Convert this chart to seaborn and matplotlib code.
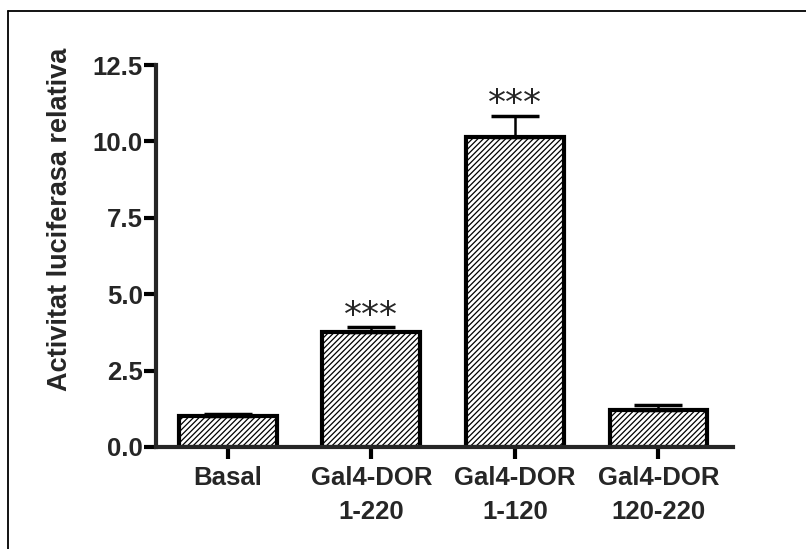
import matplotlib.pyplot as plt
import pandas as pd
import seaborn as sns
from matplotlib.lines import Line2D
from matplotlib.ticker import FormatStrFormatter, MultipleLocator

groups = ["Basal", "Gal4-DOR\n1-220", "Gal4-DOR\n1-120", "Gal4-DOR\n120-220"]
activity = [1.0, 3.76, 10.15, 1.2]
sem = [0.07, 0.17, 0.69, 0.16]
stars = ["", "***", "***", ""]


def main() -> None:
    sns.set_style("ticks")
    plt.rcParams["font.family"] = ["Liberation Sans", "DejaVu Sans"]
    plt.rcParams["font.weight"] = "bold"
    plt.rcParams["hatch.linewidth"] = 0.9
    plt.rcParams["hatch.color"] = "black"

    df = pd.DataFrame({"group": groups, "activity": activity, "sem": sem})

    fig = plt.figure(figsize=(8.06, 5.49), dpi=100)
    ax = fig.add_axes([0.1935, 0.1858, 0.7159, 0.6958])
    sns.barplot(data=df, x="group", y="activity", color="white", edgecolor="black",
                linewidth=3, width=0.68, errorbar=None, saturation=1, ax=ax)
    for bar in ax.patches:
        bar.set_hatch("//////")

    ax.errorbar(range(len(df)), df["activity"], yerr=[[0] * len(df), df["sem"]],
                fmt="none", ecolor="black", elinewidth=1.8, capsize=17, capthick=2.5)

    for i, (m, e, s) in enumerate(zip(activity, sem, stars)):
        if s:
            ax.annotate(s, (i, m + e), xytext=(0, 1), textcoords="offset points",
                        ha="center", va="baseline", fontsize=26,
                        fontweight="medium", family="DejaVu Sans")

    sns.despine(ax=ax)
    for side in ("left", "bottom"):
        ax.spines[side].set_linewidth(3)
    ax.set_xlim(-0.5, 3.52)
    ax.set_ylim(0, 12.5)
    ax.yaxis.set_major_locator(MultipleLocator(2.5))
    ax.yaxis.set_major_formatter(FormatStrFormatter("%.1f"))
    ax.tick_params(axis="both", length=8.5, width=3, labelsize=18.5, color="black")
    ax.tick_params(axis="y", pad=1)
    ax.tick_params(axis="x", pad=5)
    for t in ax.get_xticklabels():
        t.set_linespacing(1.55)
    ax.set_xlabel("")
    ax.set_ylabel("Activitat luciferasa relativa", fontsize=19.5, fontweight="bold")
    ax.yaxis.set_label_coords(-0.144, 0.597)

    fig.add_artist(Line2D([0.0099, 1.0], [0.98, 0.98], transform=fig.transFigure,
                          color="black", lw=1.3))
    fig.add_artist(Line2D([0.0099, 0.0099], [0.0, 0.98], transform=fig.transFigure,
                          color="black", lw=1.3))

    fig.savefig("out.png", dpi=100)
    plt.close(fig)


if __name__ == "__main__":
    main()
